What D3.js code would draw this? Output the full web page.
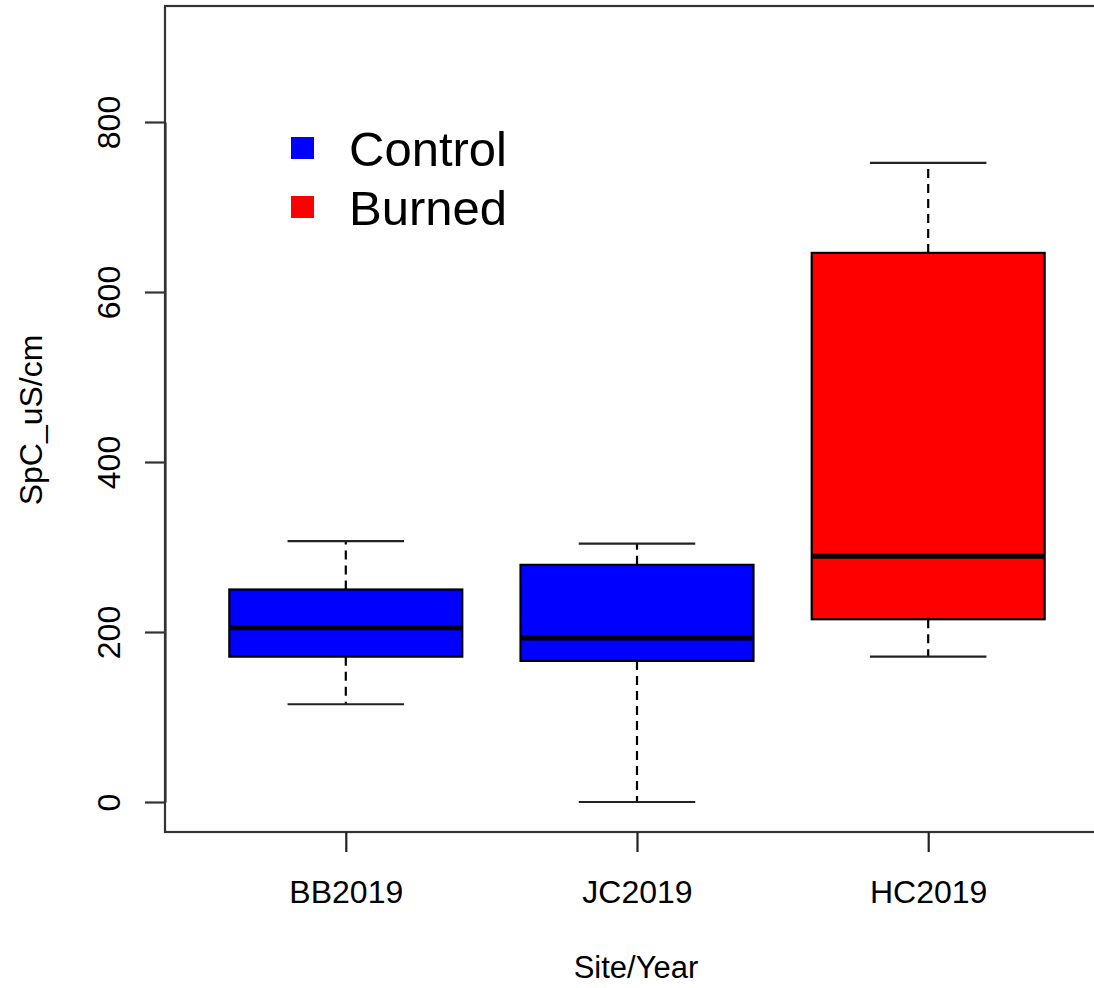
<!DOCTYPE html>
<html>
<head>
<meta charset="utf-8">
<script src="https://cdn.jsdelivr.net/npm/d3@7"></script>
<style>
  html, body { margin: 0; padding: 0; background: #fff; }
  svg { display: block; font-family: "Liberation Sans", Arial, sans-serif; }
</style>
</head>
<body>
<svg id="chart" width="1094" height="988"></svg>
<script>
// ---- data ----
const categories = ["BB2019", "JC2019", "HC2019"];
const groups = ["Control", "Control", "Burned"];
const whiskerLow = [115, 0, 171];
const q1 = [171, 166, 215];
const median = [205, 193, 289];
const q3 = [250, 279, 646];
const whiskerHigh = [307, 304, 752];
const yTicks = [0, 200, 400, 600, 800];
const legendLabels = ["Control", "Burned"];
const groupColors = { Control: "#0000FF", Burned: "#FF0000" };
const yTitle = "SpC_uS/cm";
const xTitle = "Site/Year";

// ---- layout ----
const svg = d3.select("#chart");
const frame = { left: 165, top: 6, right: 1110, bottom: 832 };

const y = d3.scaleLinear().domain([0, 800]).range([802, 122]);
const x = d3.scaleLinear().domain([1, 3]).range([345.8, 928.2]);
const step = x(2) - x(1);
const boxW = step * 0.8;
const capW = boxW * 0.5;

const boxes = categories.map((c, i) => ({
  cat: c, idx: i + 1, group: groups[i],
  lo: whiskerLow[i], q1: q1[i], med: median[i], q3: q3[i], hi: whiskerHigh[i]
}));

const g = svg.append("g");

// whiskers (dashed)
g.selectAll("line.wh-up").data(boxes).join("line")
  .attr("x1", d => x(d.idx)).attr("x2", d => x(d.idx))
  .attr("y1", d => y(d.q3)).attr("y2", d => y(d.hi))
  .attr("stroke", "#000").attr("stroke-width", 2.2).attr("stroke-dasharray", "9,6");
g.selectAll("line.wh-dn").data(boxes).join("line")
  .attr("x1", d => x(d.idx)).attr("x2", d => x(d.idx))
  .attr("y1", d => y(d.q1)).attr("y2", d => y(d.lo))
  .attr("stroke", "#000").attr("stroke-width", 2.2).attr("stroke-dasharray", "9,6");

// staples
["hi", "lo"].forEach(k => {
  g.append("g").selectAll("line").data(boxes).join("line")
    .attr("x1", d => x(d.idx) - capW / 2).attr("x2", d => x(d.idx) + capW / 2)
    .attr("y1", d => y(d[k])).attr("y2", d => y(d[k]))
    .attr("stroke", "#222").attr("stroke-width", 2.2);
});

// boxes
g.append("g").selectAll("rect").data(boxes).join("rect")
  .attr("x", d => x(d.idx) - boxW / 2)
  .attr("width", boxW)
  .attr("y", d => y(d.q3))
  .attr("height", d => y(d.q1) - y(d.q3))
  .attr("fill", d => groupColors[d.group])
  .attr("stroke", "#000").attr("stroke-width", 2.2);

// medians
g.append("g").selectAll("line").data(boxes).join("line")
  .attr("x1", d => x(d.idx) - boxW / 2 + 1).attr("x2", d => x(d.idx) + boxW / 2 - 1)
  .attr("y1", d => y(d.med)).attr("y2", d => y(d.med))
  .attr("stroke", "#000").attr("stroke-width", 5);

// frame
svg.append("rect")
  .attr("x", frame.left).attr("y", frame.top)
  .attr("width", frame.right - frame.left).attr("height", frame.bottom - frame.top)
  .attr("fill", "none").attr("stroke", "#333").attr("stroke-width", 2.2);

// y axis
const yAxis = svg.append("g").attr("transform", `translate(${frame.left},0)`)
  .call(d3.axisLeft(y).tickValues(yTicks).tickSize(20).tickSizeOuter(0));
yAxis.select(".domain").attr("stroke", "#333").attr("stroke-width", 2.2);
yAxis.selectAll(".tick line").attr("stroke", "#333").attr("stroke-width", 2.2);
yAxis.selectAll(".tick text")
  .attr("x", null).attr("dy", null)
  .attr("transform", "translate(-45,0) rotate(-90)")
  .attr("text-anchor", "middle")
  .attr("fill", "#000")
  .style("font-size", "32px")
  .style("font-family", "'Liberation Sans', Arial, sans-serif");

// x axis
const xAxis = svg.append("g").attr("transform", `translate(0,${frame.bottom})`)
  .call(d3.axisBottom(x).tickValues([1, 2, 3]).tickFormat(d => categories[d - 1]).tickSize(20).tickSizeOuter(0));
xAxis.select(".domain").remove();
xAxis.selectAll(".tick line").attr("stroke", "#222").attr("stroke-width", 2.2);
xAxis.selectAll(".tick text")
  .attr("y", 71).attr("dy", null)
  .attr("fill", "#000")
  .style("font-size", "32px")
  .style("font-family", "'Liberation Sans', Arial, sans-serif");

// axis titles
svg.append("text")
  .attr("transform", "translate(42,420) rotate(-90)")
  .attr("text-anchor", "middle")
  .style("font-size", "32px")
  .text(yTitle);
svg.append("text")
  .attr("x", 636).attr("y", 978)
  .attr("text-anchor", "middle")
  .style("font-size", "31px")
  .text(xTitle);

// legend
const lg = svg.append("g").attr("transform", "translate(291,148)");
const items = lg.selectAll("g").data(legendLabels).join("g")
  .attr("transform", (d, i) => `translate(0,${i * 59})`);
items.append("rect")
  .attr("x", 0).attr("y", -11).attr("width", 23).attr("height", 22)
  .attr("fill", d => groupColors[d]);
items.append("text")
  .attr("x", 58).attr("y", 18)
  .style("font-size", "49px")
  .text(d => d);
</script>
</body>
</html>
